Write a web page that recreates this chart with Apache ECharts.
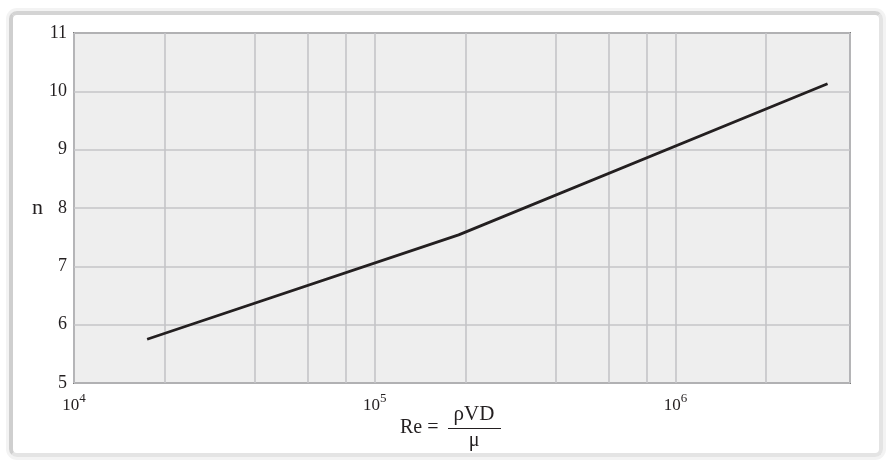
<!DOCTYPE html>
<html>
<head>
<meta charset="utf-8">
<script src="https://cdn.jsdelivr.net/npm/echarts@6/dist/echarts.min.js"></script>
<style>
  html, body { margin: 0; padding: 0; background: #fff; }
  #frame {
    position: absolute; left: 9px; top: 11px; width: 874px; height: 446px;
    box-sizing: border-box;
    border-left: 4px solid #cfcfcf; border-top: 4px solid #d4d4d4;
    border-right: 4px solid #e4e4e4; border-bottom: 4px solid #e4e4e4;
    border-radius: 8px;
    box-shadow: 0 0 0 3px #f3f3f3;
  }
  #chart { position: absolute; left: 0; top: 0; width: 886px; height: 463px; }
</style>
</head>
<body>
<div id="frame"></div>
<div id="chart"></div>
<script>
// Reynolds number vs exponent n (power-law velocity profile)
const reValues = [1.75e4, 1.9e5, 3.2e6]
const nValues = [5.75, 7.54, 10.13]

// extra vertical grid lines inside each decade
const xMinorLines = [2e4, 4e4, 6e4, 8e4, 2e5, 4e5, 6e5, 8e5, 2e6]

const yMin = 5
const yMax = 11

const FONT = '"Liberation Serif", "DejaVu Serif", serif'
const INK = '#231f20'
const GRID_LINE = { color: '#c4c4c7', width: 1.6 }

const chart = echarts.init(document.getElementById('chart'), null, { renderer: 'canvas' })

const points = reValues.map((re, i) => [re, nValues[i]])

const option = {
  animation: false,
  grid: {
    left: 74, top: 33, right: 36, bottom: 80,
    show: true,
    backgroundColor: '#eeeeee',
    borderColor: '#7a7a7a',
    borderWidth: 2
  },
  xAxis: {
    type: 'log',
    logBase: 10,
    min: 1e4,
    max: 3.8e6,
    axisLine: { show: false },
    axisTick: { show: false },
    splitLine: { show: true, lineStyle: GRID_LINE },
    axisLabel: {
      margin: 9,
      formatter: (v) => {
        const e = Math.log10(v)
        if (Math.abs(e - Math.round(e)) > 1e-6) return ''
        return '{b|10}{s|' + Math.round(e) + '}'
      },
      rich: {
        b: { fontFamily: FONT, fontSize: 17, color: INK, lineHeight: 22, verticalAlign: 'bottom' },
        s: { fontFamily: FONT, fontSize: 13, color: INK, lineHeight: 12, verticalAlign: 'top' }
      }
    }
  },
  yAxis: {
    type: 'value',
    min: yMin,
    max: yMax,
    interval: 1,
    name: 'n',
    nameLocation: 'middle',
    nameRotate: 0,
    nameGap: 30,
    nameTextStyle: { fontFamily: FONT, fontSize: 22, color: INK },
    axisLine: { show: false },
    axisTick: { show: false },
    splitLine: { show: true, lineStyle: GRID_LINE },
    axisLabel: { fontFamily: FONT, fontSize: 18, color: INK, margin: 7 }
  },
  series: [
    {
      // carrier for the in-decade grid lines
      type: 'line',
      data: points,
      silent: true,
      symbol: 'none',
      lineStyle: { opacity: 0 },
      z: 1,
      markLine: {
        silent: true,
        symbol: ['none', 'none'],
        label: { show: false },
        lineStyle: { color: GRID_LINE.color, width: GRID_LINE.width, type: 'solid' },
        emphasis: { disabled: true },
        data: xMinorLines.map(v => ({ xAxis: v }))
      }
    },
    {
      type: 'line',
      data: points,
      symbol: 'none',
      lineStyle: { color: INK, width: 2.8 },
      z: 5
    }
  ],
  graphic: [
    {
      type: 'text', x: 400, y: 428,
      style: { text: 'Re =', font: '20px ' + FONT, fill: INK, align: 'left', verticalAlign: 'middle' }
    },
    {
      type: 'text', x: 474, y: 414,
      style: { text: 'ρVD', font: '21px ' + FONT, fill: INK, align: 'center', verticalAlign: 'middle' }
    },
    {
      type: 'line',
      shape: { x1: 448, y1: 428.5, x2: 501, y2: 428.5 },
      style: { stroke: INK, lineWidth: 1.2 }
    },
    {
      type: 'text', x: 474, y: 441,
      style: { text: 'μ', font: '20px ' + FONT, fill: INK, align: 'center', verticalAlign: 'middle' }
    }
  ]
}

chart.setOption(option)
</script>
</body>
</html>
